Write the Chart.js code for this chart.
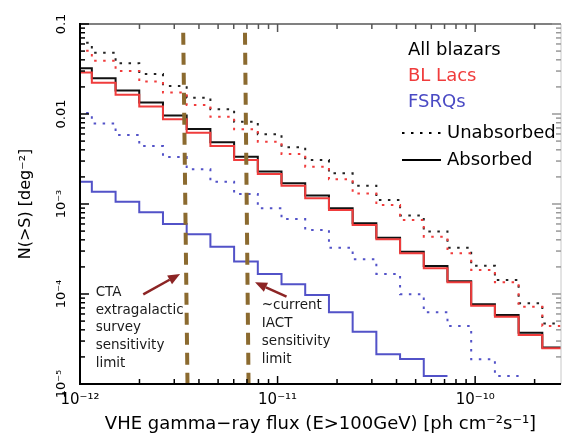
<!DOCTYPE html>
<html>
<head>
<meta charset="utf-8">
<script src="https://cdn.jsdelivr.net/npm/chart.js@4.4.1/dist/chart.umd.min.js"></script>
<style>
  html, body { margin: 0; padding: 0; background: #fff; }
  #wrap { width: 563px; height: 437px; }
</style>
</head>
<body>
<div id="wrap"><canvas id="chart"></canvas></div>
<script>
// flux bin edges [ph cm^-2 s^-1], bins are 0.12 dex wide
const binEdges = [8.710e-13, 1.148e-12, 1.514e-12, 1.995e-12, 2.630e-12, 3.467e-12, 4.571e-12,
  6.026e-12, 7.943e-12, 1.047e-11, 1.380e-11, 1.820e-11, 2.399e-11, 3.162e-11, 4.169e-11,
  5.495e-11, 7.244e-11, 9.550e-11, 1.259e-10, 1.660e-10, 2.188e-10, 2.884e-10];

// N(>S) [deg^-2], one value per bin
const allUnabsorbed = [0.062, 0.048, 0.0366, 0.0278, 0.0205, 0.0152, 0.0113, 0.0082, 0.00594, 0.00426,
  0.00308, 0.00219, 0.0016, 0.00111, 0.000745, 0.000495, 0.000327, 0.000206, 0.000143, 0.0000789, 0.000047];
const bllacUnabsorbed = [0.0505, 0.0391, 0.0301, 0.0229, 0.0173, 0.0126, 0.00933, 0.00676, 0.00492, 0.00359,
  0.0026, 0.00188, 0.00131, 0.000975, 0.000664, 0.000434, 0.000283, 0.000185, 0.000135, 0.0000723, 0.0000441];
const fsrqUnabsorbed = [0.01026, 0.00784, 0.00584, 0.00441, 0.00333, 0.00243, 0.00177, 0.00129, 0.000896,
  0.000681, 0.000514, 0.000327, 0.000243, 0.000167, 0.0000993, 0.0000626, 0.0000441, 0.0000188, 0.0000123];
const allAbsorbed = [0.0322, 0.0249, 0.0182, 0.0134, 0.0096, 0.0068, 0.00485, 0.00336, 0.00229, 0.0017,
  0.00124, 0.000896, 0.000611, 0.000422, 0.000295, 0.000205, 0.000139, 0.0000769, 0.0000585, 0.0000372, 0.0000255];
const bllacAbsorbed = [0.029, 0.0223, 0.0164, 0.0121, 0.00873, 0.00619, 0.00441, 0.00308, 0.00216, 0.0016,
  0.00116, 0.000858, 0.000584, 0.000406, 0.000283, 0.000193, 0.000135, 0.0000741, 0.000056, 0.000035, 0.0000249];
const fsrqAbsorbed = [0.00177, 0.00137, 0.00106, 0.000809, 0.0006, 0.000461, 0.000336, 0.000229, 0.000167,
  0.000128, 0.0000975, 0.0000626, 0.0000381, 0.0000214, 0.000019, 0.0000123];

// sensitivity limits (hand drawn, slightly tilted: top / bottom flux)
const ctaLimit = [3.33e-12, 3.5e-12];
const iactLimit = [6.84e-12, 7.13e-12];
const limitSpan = [0.08, 1e-5];

// axes
const xRange = [1e-12, 2.72e-10];
const yRange = [1e-5, 0.1];
const xMajorTicks = [1e-12, 1e-11, 1e-10];
const xMajorLabels = ['10⁻¹²', '10⁻¹¹', '10⁻¹⁰'];
const yMajorTicks = [1e-5, 1e-4, 1e-3, 0.01, 0.1];
const yMajorLabels = ['10⁻⁵', '10⁻⁴', '10⁻³', '0.01', '0.1'];
const minorSteps = [2, 3, 4, 5, 6, 7, 8, 9];

const red = '#f03c3c';
const blue = '#5252c8';
const brown = '#8b6a2f';
const dotted = [2.5, 6.5];

function steps(values) {
  const pts = [{x: binEdges[0], y: values[0]}];
  values.forEach((v, i) => pts.push({x: binEdges[i + 1], y: v}));
  return pts;
}

function tickList(majors, max) {
  const list = [];
  majors.forEach(m => {
    list.push({value: m, major: true});
    minorSteps.forEach(s => { if (m * s <= max * 1.0001) list.push({value: m * s, major: false}); });
  });
  return list;
}
const xTicks = tickList(xMajorTicks, xRange[1]);
const yTicks = tickList(yMajorTicks, yRange[1]);

function labelFor(majors, labels) {
  return value => {
    const i = majors.findIndex(m => Math.abs(value / m - 1) < 1e-6);
    return i >= 0 ? labels[i] : '';
  };
}

// box, inward tick marks, legend, annotations
const decorPlugin = {
  id: 'decor',
  afterDatasetsDraw(chart) {
    const {ctx, chartArea: a, scales: {x, y}} = chart;
    ctx.save();
    const seg = (x1, y1, x2, y2) => { ctx.beginPath(); ctx.moveTo(x1, y1); ctx.lineTo(x2, y2); ctx.stroke(); };

    // frame
    ctx.lineWidth = 1;
    ctx.strokeStyle = '#c8c8c8';
    seg(a.right, a.top, a.right, a.bottom);
    ctx.lineWidth = 2;
    ctx.strokeStyle = '#808080';
    seg(a.left, a.top, a.right, a.top);

    // ticks
    ctx.lineWidth = 1.5;
    xTicks.forEach(t => {
      const px = x.getPixelForValue(t.value);
      const len = t.major ? 8 : 5;
      ctx.strokeStyle = '#000';
      seg(px, a.bottom, px, a.bottom - len);
      ctx.strokeStyle = '#555';
      seg(px, a.top, px, a.top + len);
    });
    yTicks.forEach(t => {
      const py = y.getPixelForValue(t.value);
      const len = t.major ? 9 : 5;
      ctx.strokeStyle = '#000';
      seg(a.left, py, a.left + len, py);
      ctx.strokeStyle = '#999';
      seg(a.right, py, a.right - len, py);
    });

    ctx.lineWidth = 2;
    ctx.strokeStyle = '#000';
    seg(a.left, a.top - 1, a.left, a.bottom + 1);
    seg(a.left - 1, a.bottom, a.right, a.bottom);

    // arrows
    ctx.strokeStyle = '#8c2424';
    ctx.fillStyle = '#8c2424';
    ctx.lineWidth = 2.5;
    const arrow = (p, q) => {
      const x1 = x.getPixelForValue(p[0]), y1 = y.getPixelForValue(p[1]);
      const x2 = x.getPixelForValue(q[0]), y2 = y.getPixelForValue(q[1]);
      const ang = Math.atan2(y2 - y1, x2 - x1);
      const head = 12, half = 5;
      const bx = x2 - head * Math.cos(ang), by = y2 - head * Math.sin(ang);
      seg(x1, y1, bx, by);
      ctx.beginPath();
      ctx.moveTo(x2, y2);
      ctx.lineTo(bx + half * Math.sin(ang), by - half * Math.cos(ang));
      ctx.lineTo(bx - half * Math.sin(ang), by + half * Math.cos(ang));
      ctx.closePath();
      ctx.fill();
    };
    arrow([2.09e-12, 9.9e-5], [3.21e-12, 1.67e-4]);
    arrow([1.11e-11, 9.33e-5], [7.69e-12, 1.35e-4]);

    // annotation text
    ctx.fillStyle = '#1a1a1a';
    ctx.font = '13.5px "DejaVu Sans"';
    ctx.textAlign = 'left';
    ctx.textBaseline = 'middle';
    const block = (lines, at, lh) => {
      const px = x.getPixelForValue(at[0]), py = y.getPixelForValue(at[1]);
      lines.forEach((s, i) => ctx.fillText(s, px, py + i * lh));
    };
    block(['CTA', 'extragalactic', 'survey', 'sensitivity', 'limit'], [1.2e-12, 1.045e-4], 17.8);
    block(['~current', 'IACT', 'sensitivity', 'limit'], [8.32e-12, 7.36e-5], 18);

    // legend
    ctx.font = '18px "DejaVu Sans"';
    const lx = a.right - 153;
    [['All blazars', '#000'], ['BL Lacs', red], ['FSRQs', '#4a4ac4']].forEach((r, i) => {
      ctx.fillStyle = r[1];
      ctx.fillText(r[0], lx, a.top + 26 + i * 26.3);
    });
    ctx.fillStyle = '#000';
    ctx.strokeStyle = '#000';
    ctx.lineWidth = 2;
    ctx.setLineDash(dotted);
    seg(lx - 6, a.top + 109, lx + 34, a.top + 109);
    ctx.setLineDash([]);
    seg(lx - 6, a.top + 136, lx + 33, a.top + 136);
    ctx.fillText('Unabsorbed', lx + 39, a.top + 109);
    ctx.fillText('Absorbed', lx + 39, a.top + 136);
    ctx.restore();
  }
};

const tickFont = {family: 'DejaVu Sans', size: 15};

new Chart(document.getElementById('chart'), {
  type: 'line',
  data: {
    datasets: [
      {data: [{x: ctaLimit[0], y: limitSpan[0]}, {x: ctaLimit[1], y: limitSpan[1]}], borderColor: brown, borderWidth: 4, borderDash: [12, 8], stepped: false},
      {data: [{x: iactLimit[0], y: limitSpan[0]}, {x: iactLimit[1], y: limitSpan[1]}], borderColor: brown, borderWidth: 4, borderDash: [12, 8], stepped: false},
      {label: 'BL Lacs absorbed', data: steps(bllacAbsorbed), borderColor: red, borderWidth: 2},
      {label: 'All blazars absorbed', data: steps(allAbsorbed), borderColor: '#111', borderWidth: 2},
      {label: 'FSRQs absorbed', data: steps(fsrqAbsorbed), borderColor: blue, borderWidth: 2},
      {label: 'BL Lacs unabsorbed', data: steps(bllacUnabsorbed), borderColor: red, borderWidth: 2, borderDash: dotted},
      {label: 'All blazars unabsorbed', data: steps(allUnabsorbed), borderColor: '#222', borderWidth: 2, borderDash: dotted},
      {label: 'FSRQs unabsorbed', data: steps(fsrqUnabsorbed), borderColor: blue, borderWidth: 2, borderDash: dotted}
    ]
  },
  options: {
    responsive: true,
    maintainAspectRatio: false,
    animation: false,
    events: [],
    layout: {padding: {top: 24, right: 2, left: 0, bottom: 0}},
    elements: {
      point: {radius: 0},
      line: {stepped: 'after', fill: false, tension: 0, borderCapStyle: 'butt'}
    },
    plugins: {legend: {display: false}, tooltip: {enabled: false}},
    scales: {
      x: {
        type: 'logarithmic',
        min: xRange[0],
        max: xRange[1],
        afterBuildTicks: s => { s.ticks = xTicks.map(t => ({value: t.value})); },
        afterFit: s => { s.height = 53; },
        grid: {display: false, drawTicks: false},
        border: {display: false},
        ticks: {autoSkip: false, maxRotation: 0, padding: 7, color: '#000', font: tickFont,
          callback: labelFor(xMajorTicks, xMajorLabels)},
        title: {display: true, text: 'VHE gamma−ray flux (E>100GeV) [ph cm⁻²s⁻¹]', color: '#000',
          font: {family: 'DejaVu Sans', size: 18}, padding: {top: 0, bottom: 2}}
      },
      y: {
        type: 'logarithmic',
        min: yRange[0],
        max: yRange[1],
        afterBuildTicks: s => { s.ticks = yTicks.map(t => ({value: t.value})); },
        afterFit: s => { s.width = 80; },
        grid: {display: false, drawTicks: false},
        border: {display: false},
        ticks: {autoSkip: false, minRotation: 90, maxRotation: 90, crossAlign: 'center', padding: 4,
          color: '#000', font: {family: 'DejaVu Sans', size: 13},
          callback: labelFor(yMajorTicks, yMajorLabels)},
        title: {display: true, text: 'N(>S) [deg⁻²]', color: '#000',
          font: {family: 'DejaVu Sans', size: 16}, padding: {top: 16, bottom: 0}}
      }
    }
  },
  plugins: [decorPlugin]
});
</script>
</body>
</html>
